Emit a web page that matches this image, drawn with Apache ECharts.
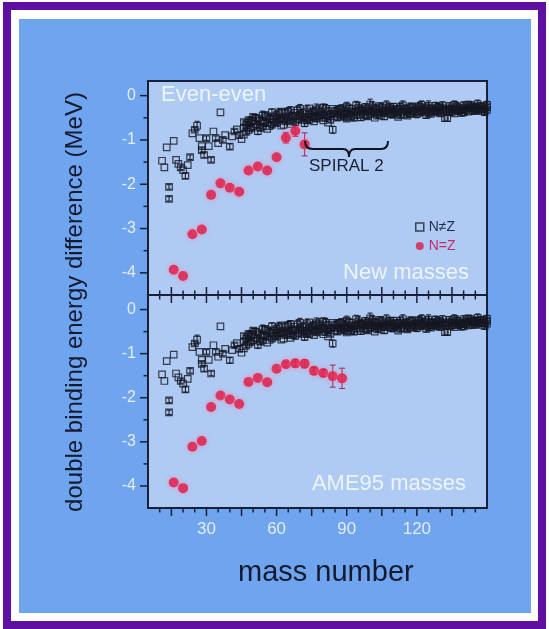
<!DOCTYPE html>
<html><head><meta charset="utf-8">
<script src="https://cdn.jsdelivr.net/npm/echarts@6/dist/echarts.min.js"></script>
<style>
html,body{margin:0;padding:0;background:#fff;width:549px;height:629px;overflow:hidden}
#frame{position:absolute;left:3px;top:2px;width:527px;height:611px;border:8px solid #6010a0;background:#fff}
#blue{position:absolute;left:19px;top:19px;width:512px;height:594px;background:#6fa4ef}
.panel{position:absolute;left:148px;width:339px;background:#afcbf4}
#p1{top:81px;height:214px}
#p2{top:295px;height:213px}
#chart{position:absolute;left:0;top:0;width:549px;height:629px}
</style></head>
<body>
<div id="frame"></div><div id="blue"></div><div class="panel" id="p1"></div><div class="panel" id="p2"></div><div id="chart"></div>
<script>
// ---- data ----
const massMajorTicks = [15, 30, 45, 60, 75, 90, 105, 120, 135];
const massMinorTicks = [10, 20, 25, 35, 40, 50, 55, 65, 70, 80, 85, 95, 100, 110, 115, 125, 130, 140, 145];
const massLabels = [30, 60, 90, 120];
const energyLabels = [-4, -3, -2, -1, 0];
const energyMinorTicks = [-3.5, -2.5, -1.5, -0.5];

// N=Z, new masses (top panel)
const nzMassNew = [16, 20, 24, 28, 32, 36, 40, 44, 48, 52, 56, 60, 64, 68, 72];
const nzValNew  = [-3.93, -4.07, -3.13, -3.02, -2.24, -1.98, -2.08, -2.17, -1.69, -1.60, -1.69, -1.39, -0.95, -0.80, -1.10];
const nzErrNew  = [0, 0, 0, 0, 0, 0, 0, 0, 0, 0, 0, 0, 0.12, 0.12, 0.26];
// N=Z, AME95 masses (bottom panel)
const nzMassAME = [16, 20, 24, 28, 32, 36, 40, 44, 48, 52, 56, 60, 64, 68, 72, 76, 80, 84, 88];
const nzValAME  = [-3.92, -4.05, -3.11, -2.98, -2.21, -1.95, -2.04, -2.14, -1.64, -1.55, -1.65, -1.34, -1.24, -1.22, -1.23, -1.39, -1.44, -1.51, -1.56];
const nzErrAME  = [0, 0, 0, 0, 0, 0, 0, 0, 0, 0, 0, 0, 0.06, 0.08, 0.09, 0.08, 0.08, 0.25, 0.23];

// N≠Z : [mass, value, error]
const nonNZ = [
 [11,-1.47,0],[12,-1.62,0],[13,-1.17,0],[14,-2.06,0.05],[14,-2.33,0.05],[16,-1.02,0],[17,-1.45,0],[18,-1.54,0],
 [19,-1.62,0.05],[20,-1.68,0],[21,-1.81,0.06],[22,-1.57,0],[23,-1.39,0.05],[24,-0.85,0],[25,-0.77,0.05],[26,-0.68,0.1],
 [27,-0.96,0],[28,-1.14,0],[28,-1.23,0.05],[29,-1.34,0.06],[30,-0.96,0.05],[31,-1.14,0],[32,-1.45,0.05],[33,-0.81,0],
 [34,-0.96,0.05],[35,-1.07,0],[36,-0.38,0],[37,-1.00,0.05],[38,-0.89,0],[40,-1.15,0.06],[41,-0.92,0],[42,-0.81,0.05],
 [43,-0.76,0],[44,-0.89,0.06],[45,-0.98,0],
 [46,-0.72,0.06],[46,-0.88,0],[46,-0.60,0.05],[48,-0.62,0.08],[48,-0.78,0],[48,-0.55,0.05],
 [50,-0.58,0],[50,-0.70,0.07],[50,-0.48,0.05],[52,-0.66,0.06],[52,-0.52,0],[52,-0.80,0.08],
 [54,-0.70,0.05],[54,-0.45,0.1],[54,-0.58,0],[56,-0.47,0.07],[56,-0.62,0.05],[56,-0.75,0],
 [58,-0.38,0.08],[58,-0.55,0],[58,-0.66,0.06],[60,-0.62,0.05],[60,-0.44,0.09],[60,-0.52,0],
 [62,-0.51,0.07],[62,-0.36,0.05],[62,-0.68,0],[64,-0.40,0.1],[64,-0.58,0.05],[64,-0.47,0],
 [66,-0.55,0.06],[66,-0.33,0.08],[66,-0.64,0],[68,-0.47,0.05],[68,-0.60,0.07],[68,-0.39,0],
 [70,-0.55,0.06],[70,-0.30,0.1],[70,-0.44,0],[72,-0.51,0.05],[72,-0.62,0.08],[72,-0.37,0],
 [74,-0.42,0.07],[74,-0.55,0.05],[74,-0.29,0],[76,-0.47,0.06],[76,-0.36,0.09],[76,-0.58,0],
 [78,-0.33,0.12],[78,-0.50,0.05],[78,-0.42,0],[80,-0.44,0.06],[80,-0.27,0.08],[80,-0.56,0],
 [82,-0.47,0.05],[82,-0.35,0.07],[82,-0.61,0],[84,-0.77,0.08],[84,-0.40,0.05],[84,-0.30,0],
 [86,-0.50,0.06],[86,-0.33,0.1],[86,-0.43,0],[88,-0.28,0.07],[88,-0.46,0.05],[88,-0.38,0],
 [90,-0.41,0.06],[90,-0.52,0.05],[90,-0.25,0.1],[92,-0.35,0.05],[92,-0.47,0.08],[92,-0.30,0],
 [94,-0.44,0.06],[94,-0.22,0.09],[94,-0.36,0],[96,-0.30,0.05],[96,-0.49,0.07],[96,-0.39,0],
 [98,-0.37,0.06],[98,-0.26,0.08],[98,-0.45,0],[100,-0.33,0.05],[100,-0.42,0.06],[100,-0.20,0.12],
 [102,-0.28,0.07],[102,-0.40,0.05],[102,-0.50,0],[104,-0.36,0.06],[104,-0.24,0.08],[104,-0.44,0],
 [106,-0.31,0.05],[106,-0.47,0.07],[106,-0.38,0],[108,-0.40,0.06],[108,-0.27,0.09],[108,-0.34,0],
 [110,-0.25,0.07],[110,-0.43,0.05],[110,-0.36,0],[112,-0.38,0.06],[112,-0.30,0.08],[112,-0.48,0],
 [114,-0.33,0.05],[114,-0.22,0.1],[114,-0.41,0],[116,-0.29,0.06],[116,-0.45,0.05],[116,-0.36,0],
 [118,-0.35,0.07],[118,-0.24,0.06],[118,-0.40,0],[120,-0.30,0.05],[120,-0.42,0.08],[120,-0.27,0],
 [122,-0.37,0.06],[122,-0.21,0.09],[122,-0.33,0],[124,-0.31,0.05],[124,-0.44,0.07],[124,-0.26,0],
 [126,-0.28,0.06],[126,-0.36,0.05],[126,-0.41,0],[128,-0.33,0.07],[128,-0.23,0.08],[128,-0.38,0],
 [130,-0.26,0.05],[130,-0.40,0.06],[130,-0.31,0],[132,-0.51,0.07],[132,-0.29,0.05],[132,-0.35,0],
 [134,-0.24,0.08],[134,-0.37,0.05],[134,-0.30,0],[136,-0.32,0.06],[136,-0.21,0.09],[136,-0.40,0],
 [138,-0.27,0.05],[138,-0.35,0.07],[138,-0.30,0],[140,-0.22,0.08],[140,-0.33,0.05],[140,-0.38,0],
 [142,-0.29,0.06],[142,-0.20,0.07],[142,-0.36,0],[144,-0.25,0.05],[144,-0.34,0.08],[144,-0.28,0],
 [146,-0.31,0.06],[146,-0.19,0.09],[146,-0.27,0],[148,-0.23,0.05],[148,-0.30,0.07],[148,-0.35,0],
 [150,-0.26,0.06],[150,-0.21,0.08],[150,-0.32,0]
];
// additional N≠Z points at odd mass positions (dense band)
const nonNZOdd = [
 [47,-0.66,0.07],[47,-0.82,0.05],[49,-0.57,0.1],[49,-0.74,0.05],[51,-0.50,0.07],[51,-0.64,0],[53,-0.73,0.06],[53,-0.56,0.08],
 [55,-0.44,0.07],[55,-0.61,0.05],[57,-0.52,0.09],[57,-0.69,0],[59,-0.47,0.06],[59,-0.60,0.07],[61,-0.40,0.1],[61,-0.57,0.05],
 [63,-0.53,0.06],[63,-0.66,0],[65,-0.36,0.09],[65,-0.50,0.06],[67,-0.45,0.07],[67,-0.58,0.05],[69,-0.34,0.1],[69,-0.52,0],
 [71,-0.48,0.06],[71,-0.40,0.08],[73,-0.56,0.05],[73,-0.33,0.11],[75,-0.38,0.07],[75,-0.49,0.05],[77,-0.52,0.06],[77,-0.31,0.12],
 [79,-0.45,0.05],[79,-0.37,0.08],[81,-0.30,0.1],[81,-0.51,0.06],[83,-0.42,0.07],[83,-0.55,0.05],[85,-0.36,0.09],[85,-0.47,0],
 [87,-0.42,0.06],[87,-0.31,0.08],[89,-0.48,0.05],[89,-0.35,0.1],[91,-0.29,0.08],[91,-0.43,0.05],[93,-0.39,0.06],[93,-0.50,0.07],
 [95,-0.33,0.05],[95,-0.27,0.12],[97,-0.43,0.06],[97,-0.34,0.08],[99,-0.29,0.07],[99,-0.47,0.05],[101,-0.36,0.06],[101,-0.24,0.1],
 [103,-0.45,0.05],[103,-0.31,0.08],[105,-0.27,0.09],[105,-0.40,0.05],[107,-0.35,0.07],[107,-0.22,0.1],[109,-0.43,0.06],[109,-0.30,0.05],
 [111,-0.33,0.08],[111,-0.39,0.05],[113,-0.26,0.09],[113,-0.44,0.06],[115,-0.37,0.05],[115,-0.30,0.08],[117,-0.41,0.06],[117,-0.27,0.1],
 [119,-0.32,0.05],[119,-0.37,0.07],[121,-0.25,0.09],[121,-0.39,0.05],[123,-0.35,0.06],[123,-0.29,0.08],[125,-0.40,0.05],[125,-0.23,0.11],
 [127,-0.30,0.07],[127,-0.35,0.05],[129,-0.36,0.06],[129,-0.27,0.09],[131,-0.22,0.08],[131,-0.33,0.05],[133,-0.32,0.06],[133,-0.51,0.07],
 [135,-0.28,0.05],[135,-0.36,0.08],[137,-0.25,0.1],[137,-0.34,0.05],[139,-0.31,0.06],[139,-0.39,0.07],[141,-0.26,0.05],[141,-0.33,0.09],
 [143,-0.30,0.06],[143,-0.22,0.08],[145,-0.35,0.05],[145,-0.27,0.1],[147,-0.24,0.07],[147,-0.32,0.05],[149,-0.29,0.06],[149,-0.37,0.08]
];

// ---- build ----
const chart = echarts.init(document.getElementById('chart'), null, {renderer: 'canvas'});
const FONT = '"Liberation Sans", Arial, sans-serif';
const X_MIN = 5, X_MAX = 150, Y_MIN = -4.5, Y_MAX = 0.33;
const axisDark = '#18203a';
const labelColor = '#e3ecfb';
const MAJ = 8, MIN = 4.5;

function zip(a, v, e) { return a.map((m, i) => [m, v[i], e[i]]); }
const nzNewData = zip(nzMassNew, nzValNew, nzErrNew);
const nzAMEData = zip(nzMassAME, nzValAME, nzErrAME);
const nonNZAll = nonNZ.concat(nonNZOdd);

function errSeries(data, xi, yi, color, cap) {
  return {
    type: 'custom', xAxisIndex: xi, yAxisIndex: yi, silent: true, z: 3,
    encode: {x: 0, y: 1},
    data: data.filter(d => d[2] > 0),
    renderItem: function (params, api) {
      const x = api.value(0), y = api.value(1), e = api.value(2);
      const lo = api.coord([x, y - e]), hi = api.coord([x, y + e]);
      const st = {stroke: color, lineWidth: 1.1};
      return {type: 'group', children: [
        {type: 'line', shape: {x1: lo[0], y1: lo[1], x2: hi[0], y2: hi[1]}, style: st},
        {type: 'line', shape: {x1: lo[0] - cap, y1: lo[1], x2: lo[0] + cap, y2: lo[1]}, style: st},
        {type: 'line', shape: {x1: hi[0] - cap, y1: hi[1], x2: hi[0] + cap, y2: hi[1]}, style: st}
      ]};
    }
  };
}

// tick marks drawn through the axes' scales; item = [x value, y value, length, direction]
// direction: 1 = below edge, -1 = above edge, 2 = both, 0 = left of edge
function xTickData(values, len, dir) { return values.map(v => [v, Y_MIN, len, dir]); }
function yTickData(values, len) { return values.map(v => [X_MIN, v, len, 0]); }
function tickSeries(data, xi, yi) {
  return {
    type: 'custom', xAxisIndex: xi, yAxisIndex: yi, silent: true, z: 8, clip: false,
    encode: {x: 0, y: 1},
    data: data,
    renderItem: function (params, api) {
      const p = api.coord([api.value(0), api.value(1)]);
      const l = api.value(2), d = api.value(3);
      const st = {stroke: axisDark, lineWidth: 1.5};
      if (d === 0) return {type: 'line', shape: {x1: p[0], y1: p[1], x2: p[0] - l, y2: p[1]}, style: st};
      if (d === 1) return {type: 'line', shape: {x1: p[0], y1: p[1], x2: p[0], y2: p[1] + l}, style: st};
      if (d === -1) return {type: 'line', shape: {x1: p[0], y1: p[1], x2: p[0], y2: p[1] - l}, style: st};
      return {type: 'line', shape: {x1: p[0], y1: p[1] - l, x2: p[0], y2: p[1] + l}, style: st};
    }
  };
}

function xAx(grid, labels) {
  return {
    type: 'value', gridIndex: grid, position: 'bottom', min: X_MIN, max: X_MAX,
    axisLine: {show: false, onZero: false},
    splitLine: {show: false},
    axisTick: {show: false},
    axisLabel: labels ? {show: true, customValues: labels, color: labelColor, fontSize: 17, fontFamily: FONT, margin: 13}
                      : {show: false}
  };
}
function yAx(grid) {
  return {
    type: 'value', gridIndex: grid, position: 'left', min: Y_MIN, max: Y_MAX,
    axisLine: {show: false, onZero: false},
    splitLine: {show: false},
    axisTick: {show: false},
    axisLabel: {show: true, customValues: energyLabels, color: labelColor, fontSize: 16, fontFamily: FONT, margin: 12,
                formatter: v => String(v)}
  };
}

const gridStyle = {show: true, backgroundColor: 'transparent', borderColor: axisDark, borderWidth: 2, containLabel: false};

const sqStyle = {color: 'rgba(0,0,0,0)', borderColor: '#141722', borderWidth: 1.2};
const redStyle = {color: '#dc1c48', shadowBlur: 5, shadowColor: 'rgba(255,120,160,0.9)'};

const braceStyle = {stroke: '#111522', lineWidth: 2, fill: null};

const option = {
  animation: false,
  grid: [
    Object.assign({left: 148, top: 81, width: 339, height: 214}, gridStyle),
    Object.assign({left: 148, top: 295, width: 339, height: 213}, gridStyle)
  ],
  xAxis: [xAx(0, null), xAx(1, massLabels)],
  yAxis: [yAx(0), yAx(1)],
  legend: {
    orient: 'vertical', left: 410, top: 215, itemWidth: 8, itemHeight: 8, itemGap: 5,
    selectedMode: false,
    textStyle: {fontFamily: FONT, fontSize: 14},
    data: [
      {name: 'N≠Z', icon: 'rect', itemStyle: {color: 'rgba(0,0,0,0)', borderColor: '#1b1e2e', borderWidth: 1.5}, textStyle: {color: '#1d2b52'}},
      {name: 'N=Z', icon: 'circle', itemStyle: {color: '#dc1c48'}, textStyle: {color: '#c42a72'}}
    ]
  },
  series: [
    tickSeries(xTickData(massMajorTicks, MAJ, 2).concat(xTickData(massMinorTicks, MIN, 2)), 0, 0),
    tickSeries(xTickData(massMajorTicks, MAJ, 1).concat(xTickData(massMinorTicks, MIN, 1)), 1, 1),
    tickSeries(yTickData(energyLabels, MAJ).concat(yTickData(energyMinorTicks, MIN)), 0, 0),
    tickSeries(yTickData(energyLabels, MAJ).concat(yTickData(energyMinorTicks, MIN)), 1, 1),
    errSeries(nonNZAll, 0, 0, '#1f2333', 2.5),
    {name: 'N≠Z', type: 'scatter', xAxisIndex: 0, yAxisIndex: 0, symbol: 'rect', symbolSize: 6.5, itemStyle: sqStyle, data: nonNZAll, z: 4},
    errSeries(nonNZAll, 1, 1, '#1f2333', 2.5),
    {name: 'N≠Z', type: 'scatter', xAxisIndex: 1, yAxisIndex: 1, symbol: 'rect', symbolSize: 6.5, itemStyle: sqStyle, data: nonNZAll, z: 4},
    errSeries(nzNewData, 0, 0, '#a8305e', 3),
    {name: 'N=Z', type: 'scatter', xAxisIndex: 0, yAxisIndex: 0, symbol: 'circle', symbolSize: 10, itemStyle: redStyle, data: nzNewData, z: 5},
    errSeries(nzAMEData, 1, 1, '#a8305e', 3),
    {name: 'N=Z', type: 'scatter', xAxisIndex: 1, yAxisIndex: 1, symbol: 'circle', symbolSize: 10, itemStyle: redStyle, data: nzAMEData, z: 5}
  ],
  graphic: [
    {type: 'text', left: 161, top: 84, z: 10, style: {text: 'Even-even', fill: '#eef4ff', font: '22px ' + FONT}},
    {type: 'text', right: 549 - 469, top: 262, z: 10, style: {text: 'New masses', fill: '#eef4ff', font: '22px ' + FONT}},
    {type: 'text', right: 549 - 466, top: 473, z: 10, style: {text: 'AME95 masses', fill: '#eef4ff', font: '22px ' + FONT}},
    {type: 'text', left: 309, top: 158, z: 10, style: {text: 'SPIRAL 2', fill: '#1a2033', font: '17px ' + FONT}},
    {type: 'bezierCurve', z: 10, shape: {x1: 305, y1: 141, cpx1: 305, cpy1: 149, x2: 313, y2: 149}, style: braceStyle},
    {type: 'line', z: 10, shape: {x1: 313, y1: 149, x2: 343, y2: 149}, style: braceStyle},
    {type: 'bezierCurve', z: 10, shape: {x1: 343, y1: 149, cpx1: 349, cpy1: 149, x2: 349, y2: 157}, style: braceStyle},
    {type: 'bezierCurve', z: 10, shape: {x1: 349, y1: 157, cpx1: 349, cpy1: 149, x2: 355, y2: 149}, style: braceStyle},
    {type: 'line', z: 10, shape: {x1: 355, y1: 149, x2: 381, y2: 149}, style: braceStyle},
    {type: 'bezierCurve', z: 10, shape: {x1: 381, y1: 149, cpx1: 388, cpy1: 149, x2: 388, y2: 141}, style: braceStyle},
    {type: 'text', x: 75, y: 302, rotation: Math.PI / 2, z: 10,
     style: {text: 'double binding energy difference (MeV)', fill: '#141a30', font: '24px ' + FONT, align: 'center', verticalAlign: 'middle'}},
    {type: 'text', left: 238, top: 558, z: 10,
     style: {text: 'mass number', fill: '#141a30', font: '29px ' + FONT}}
  ]
};
chart.setOption(option);
</script>
</body></html>
